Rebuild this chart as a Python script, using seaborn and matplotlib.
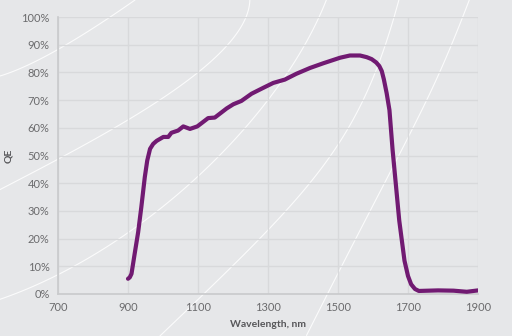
import matplotlib
matplotlib.use("Agg")
import matplotlib.pyplot as plt
import numpy as np
import pandas as pd
import seaborn as sns
from matplotlib.ticker import FuncFormatter

# QE curve (wavelength in nm, QE in %)
wavelength = [900, 905, 910, 919, 929, 938, 948, 955, 963, 972, 982, 1001,
              1015, 1024, 1043, 1058, 1077, 1098, 1129, 1148, 1182, 1201,
              1224, 1253, 1286, 1315, 1348, 1381, 1420, 1458, 1506, 1534,
              1563, 1582, 1596, 1609, 1618, 1625, 1631, 1639, 1647, 1656,
              1666, 1675, 1690, 1700, 1709, 1720, 1731, 1786, 1830, 1868,
              1900]
qe = [5.5, 6.0, 7.3, 14.5, 22.3, 31.3, 42.2, 48.2, 52.4, 54.2, 55.3, 56.7,
      56.7, 58.2, 59.0, 60.5, 59.6, 60.5, 63.5, 63.7, 67.0, 68.5,
      69.7, 72.3, 74.4, 76.2, 77.4, 79.5, 81.6, 83.3, 85.3, 86.1,
      86.1, 85.5, 84.8, 83.6, 82.3, 80.5, 77.5, 72.5, 66.4, 52.0,
      38.6, 26.5, 12.0, 6.5, 3.5, 1.8, 1.1, 1.3, 1.2, 0.8,
      1.3]

x_ticks = [700, 900, 1100, 1300, 1500, 1700, 1900]
y_ticks = list(range(0, 101, 10))

# decorative white arcs in the background (figure pixel coords)
arcs = [
    [(0, 76), (57, 50), (135, 0)],
    [(0, 190), (67, 153), (133, 118), (193, 77), (233, 37), (250, 0)],
    [(0, 302), (67, 263), (133, 230), (200, 183), (256, 115), (289, 60), (329, 0)],
    [(160, 336), (256, 242), (323, 167), (366, 93), (399, 0)],
    [(306, 336), (373, 207), (409, 133), (443, 67), (469, 0)],
]

bg = "#e6e7e9"
purple = "#711a72"
grey_txt = "#6b6b6d"

sns.set_style("white")
plt.rcParams["font.family"] = ["Lato", "DejaVu Sans"]

fig = plt.figure(figsize=(5.12, 3.36), dpi=100, facecolor=bg)

# background layer for the arcs
back = fig.add_axes([0, 0, 1, 1], zorder=0)
back.set_xlim(0, 512)
back.set_ylim(336, 0)
back.axis("off")
for pts in arcs:
    px, py = zip(*pts)
    t = np.linspace(0, 1, len(px))
    tt = np.linspace(0, 1, 100)
    deg = min(3, len(px) - 1)
    cx = np.polyval(np.polyfit(t, px, deg), tt)
    cy = np.polyval(np.polyfit(t, py, deg), tt)
    back.plot(cx, cy, color="white", lw=0.8, alpha=0.85)

ax = fig.add_axes([58 / 512, 42 / 336, 420 / 512, 277 / 336], zorder=1)
ax.set_facecolor("none")

df = pd.DataFrame({"Wavelength": wavelength, "QE": qe})
sns.lineplot(data=df, x="Wavelength", y="QE", ax=ax, color=purple,
             lw=3.0, solid_capstyle="round", solid_joinstyle="round",
             zorder=3)

ax.set_xlim(700, 1900)
ax.set_ylim(0, 100)
ax.set_xticks(x_ticks)
ax.set_yticks(y_ticks)
ax.yaxis.set_major_formatter(FuncFormatter(lambda v, _: f"{v:.0f}%"))
ax.grid(True, color="#d8d9db", lw=1.0)
ax.tick_params(length=0, labelsize=8, colors=grey_txt, pad=6)

for side in ["top", "right"]:
    ax.spines[side].set_visible(False)
for side in ["left", "bottom"]:
    ax.spines[side].set_color("#c9cacc")
    ax.spines[side].set_linewidth(1.2)

ax.set_xlabel("Wavelength, nm", fontsize=7.5, color="#57575a",
              fontweight="bold", labelpad=5)
ax.set_ylabel("QE", fontsize=7.5, color="#57575a", fontweight="bold",
              labelpad=6)

fig.savefig("out.png", dpi=100, facecolor=bg)
